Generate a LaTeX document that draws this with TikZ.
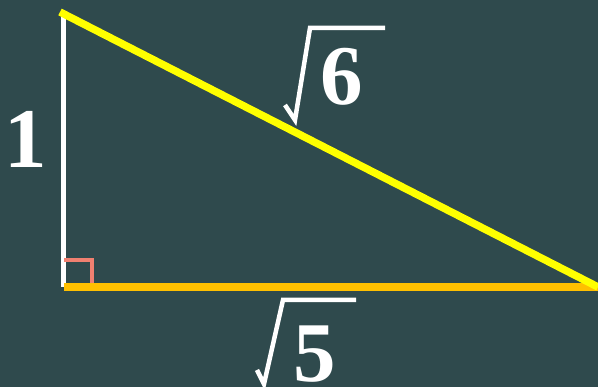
\documentclass[tikz,border=0pt]{standalone}
\usepackage{fontspec}
\setmainfont{Liberation Serif}
\definecolor{board}{HTML}{2F4A4D}
\definecolor{hyp}{HTML}{FFFF00}
\definecolor{basecol}{HTML}{FFC000}
\definecolor{anglecol}{HTML}{F08070}
\begin{document}
\begin{tikzpicture}[x=1pt,y=-1pt,
  digit/.style={text=white,font=\bfseries\fontsize{85}{85}\selectfont,inner sep=0pt},
  radical/.style={draw=white,line width=4.5pt,line join=miter}]
\fill[board] (0,0) rectangle (598,387);
\useasboundingbox (0,0) rectangle (598,387);
\coordinate (A) at (63,14);
\coordinate (C) at (63,287);
\coordinate (B) at (598,287);
\draw[white,line width=5pt] (63,16) -- (C);
\draw[anglecol,line width=4pt] (64,260.5) -- (92,260.5) -- (92,284);
\draw[basecol,line width=8pt] (64,287) -- (B);
\draw[hyp,line width=7.5pt] (60,12) -- (598,287);
\node[digit] (one) at (26,139) {1};
\node[digit] (six) at (342,77) {6};
\node[digit] (five) at (315,354) {5};
\draw[radical] (285,105) -- (295,120) -- (310,28) -- (385,28);
\draw[radical] (257,370) -- (264,384) -- (283,300) -- (356,300);
\end{tikzpicture}
\end{document}
